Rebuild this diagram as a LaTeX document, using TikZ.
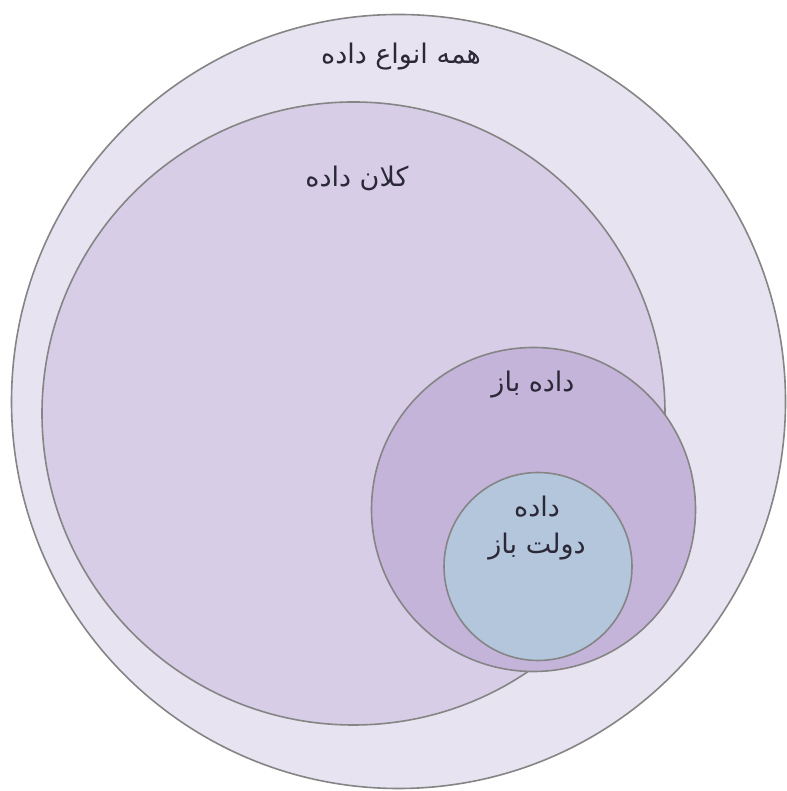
\documentclass[tikz,border=0pt]{standalone}
\usepackage{fontspec}
\newfontfamily\arabicfont[Script=Arabic]{DejaVu Sans}
\TeXXeTstate=1
\definecolor{outerfill}{HTML}{E7E3F0}
\definecolor{bigfill}{HTML}{D7CDE6}
\definecolor{midfill}{HTML}{C5B4DA}
\definecolor{smallfill}{HTML}{B3C6DC}
\definecolor{rimcol}{HTML}{858585}
\definecolor{txtcol}{HTML}{2B2838}
\tikzset{
  setcircle/.style={circle, draw=rimcol, line width=1.6pt, inner sep=0pt},
  lbl/.style={text=txtcol, font=\arabicfont\fontsize{27}{37}\selectfont, align=center, inner sep=0pt}
}
\begin{document}
\begin{tikzpicture}[x=1pt,y=1pt]
\fill[white] (0,0) rectangle (786,791);
\useasboundingbox (0,0) rectangle (786,791);
\node[setcircle, fill=outerfill, minimum size=774pt] (all) at (398.5,389.5) {};
\node[setcircle, fill=bigfill, minimum size=623pt] (big) at (353.5,377.5) {};
\node[setcircle, fill=midfill, minimum size=324pt] (open) at (533.5,281.5) {};
\node[setcircle, fill=smallfill, minimum size=188pt] (gov) at (538,224.5) {};
\node[lbl] (tall) at (401,734) {\beginR همه انواع داده\endR};
\node[lbl] (tbig) at (357,613) {\beginR کلان داده\endR};
\node[lbl] (topen) at (533,406) {\beginR داده باز\endR};
\node[lbl] (tgov) at (537,262.5) {\beginR داده\endR\\\beginR دولت باز\endR};
\end{tikzpicture}
\end{document}
